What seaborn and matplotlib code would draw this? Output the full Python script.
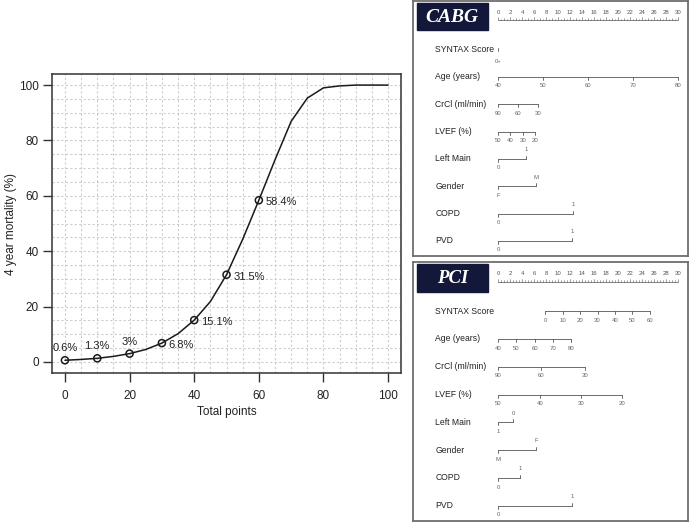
import numpy as np
import pandas as pd
import matplotlib
matplotlib.use("Agg")
import matplotlib.pyplot as plt
from matplotlib.patches import Rectangle
import seaborn as sns

# mortality curve
total_points = [0, 5, 10, 15, 20, 25, 30, 35, 40, 45, 50, 55, 60, 65, 70,
                75, 80, 85, 90, 95, 100]
mortality = [0.6, 0.9, 1.3, 2.0, 3.0, 4.5, 6.8, 10.2, 15.1, 21.8, 31.5, 44.3,
             58.4, 73.0, 86.9, 95.3, 99.0, 99.7, 100, 100, 100]
marked_points = [0, 10, 20, 30, 40, 50, 60]
marked_mortality = [0.6, 1.3, 3.0, 6.8, 15.1, 31.5, 58.4]
marked_labels = ["0.6%", "1.3%", "3%", "6.8%", "15.1%", "31.5%", "58.4%"]

# nomogram rows
variables = ["SYNTAX Score", "Age (years)", "CrCl (ml/min)", "LVEF (%)",
             "Left Main", "Gender", "COPD", "PVD"]
categorical = ["Left Main", "Gender", "COPD", "PVD"]
points_scale = list(range(0, 31, 2))

cabg_labels = [["0+"], ["40", "50", "60", "70", "80"], ["90", "60", "30"],
               ["50", "40", "30", "20"], ["0", "1"], ["F", "M"], ["0", "1"], ["0", "1"]]
cabg_points = [[0], [0, 7.5, 15, 22.5, 30], [0, 3.34, 6.68], [0, 2.06, 4.12, 6.2],
               [0, 4.73], [0, 6.35], [0, 12.5], [0, 12.4]]

pci_labels = [["0", "10", "20", "30", "40", "50", "60"], ["40", "50", "60", "70", "80"],
              ["90", "60", "30"], ["50", "40", "30", "20"], ["1", "0"], ["M", "F"],
              ["0", "1"], ["0", "1"]]
pci_points = [[7.9, 10.8, 13.7, 16.6, 19.5, 22.4, 25.3], [0, 3.06, 6.12, 9.18, 12.24],
              [0, 7.24, 14.58], [0, 6.96, 13.86, 20.7], [0, 2.5], [0, 6.35],
              [0, 3.62], [0, 12.36]]

sns.set_theme(style="white")
plt.rcParams['font.family'] = ['Liberation Sans', 'DejaVu Sans']

fig = plt.figure(figsize=(6.9, 5.23), dpi=100)

# ---- left: mortality vs total points
ax = fig.add_axes([0.0754, 0.2868, 0.5058, 0.5717])
df = pd.DataFrame({"points": total_points, "mortality": mortality})
dm = pd.DataFrame({"points": marked_points, "mortality": marked_mortality})
sns.lineplot(data=df, x="points", y="mortality", color="#1a1a1a", lw=1.1, ax=ax, zorder=3)
sns.scatterplot(data=dm, x="points", y="mortality", marker="o", s=26, facecolor="none",
                edgecolor="#1a1a1a", linewidth=1.1, ax=ax, zorder=4)
for i, (px, py, lab) in enumerate(zip(marked_points, marked_mortality, marked_labels)):
    if i < 3:
        ax.annotate(lab, (px, py), xytext=(0, 5), textcoords="offset points",
                    ha="center", va="bottom", fontsize=8, color="#222222")
    else:
        ax.annotate(lab, (px, py), xytext=(5, -1.5), textcoords="offset points",
                    ha="left", va="center", fontsize=8, color="#222222")

ax.set_xlim(-4, 104)
ax.set_ylim(-4, 104)
ax.set_xticks(range(0, 101, 20))
ax.set_yticks(range(0, 101, 20))
ax.set_xticks(range(0, 101, 5), minor=True)
ax.set_yticks(range(0, 101, 5), minor=True)
ax.grid(which="both", color="#cccccc", lw=0.8, linestyle=(0, (2, 2)))
ax.tick_params(which="major", length=6.5, width=1.0, color="#333333", labelsize=8.5,
               labelcolor="#222222", direction="out", bottom=True, left=True)
ax.tick_params(axis="x", which="major", pad=6)
ax.tick_params(axis="y", which="major", pad=3)
ax.tick_params(which="minor", length=0)
for sp in ax.spines.values():
    sp.set_color("#333333")
    sp.set_linewidth(1.1)
ax.set_xlabel("Total points", fontsize=8.5, color="#222222")
ax.set_ylabel("4 year mortality (%)", fontsize=8.5, color="#222222")
ax.xaxis.set_label_coords(0.5, -0.11)
ax.yaxis.set_label_coords(-0.10, 0.5)

# ---- right: nomograms
line_c = "#555555"
tick = 0.11


def draw_nomogram(nax, title, labels, points, title_size):
    nax.set_xlim(-14.2, 31.7)
    nax.set_ylim(7.55, -1.77)
    nax.set_xticks([])
    nax.set_yticks([])
    for sp in nax.spines.values():
        sp.set_color("#6e6e6e")
        sp.set_linewidth(1.3)
    nax.add_patch(Rectangle((0.0135, 0.886), 0.258, 0.106, transform=nax.transAxes,
                            color="#13173a", zorder=2))
    nax.text(0.1425, 0.937, title, transform=nax.transAxes, color="white",
             fontsize=title_size, fontweight="bold", fontstyle="italic",
             family="Liberation Serif", ha="center", va="center", zorder=3)
    # points scale
    y0 = -1.06
    nax.plot([0, 30], [y0, y0], color=line_c, lw=0.5)
    for p in np.arange(0, 30.01, 0.5):
        h = 0.11 if p % 2 == 0 else (0.08 if p % 1 == 0 else 0.05)
        nax.plot([p, p], [y0, y0 - h], color=line_c, lw=0.4)
    for p in points_scale:
        nax.text(p, y0 - 0.29, str(p), fontsize=4.3, color="#555555",
                 ha="center", va="center")
    # variable rows
    for i, (name, labs, pts) in enumerate(zip(variables, labels, points)):
        nax.text(-10.5, i, name, fontsize=6.2, color="#222222", ha="left", va="center")
        if len(pts) > 1:
            nax.plot([pts[0], pts[-1]], [i, i], color=line_c, lw=0.6)
        for j, (lab, p) in enumerate(zip(labs, pts)):
            up = name in categorical and j == 1
            d = -1 if up else 1
            if len(pts) == 1:
                nax.plot([p, p], [i - 0.07, i + 0.07], color=line_c, lw=0.6)
                nax.text(p, i + 0.43, lab, fontsize=4.3, color="#666666",
                         ha="center", va="center")
                continue
            nax.plot([p, p], [i, i + d * tick], color=line_c, lw=0.6)
            nax.text(p, i + d * 0.33, lab, fontsize=4.3, color="#666666",
                     ha="center", va="center")


ax_cabg = fig.add_axes([413 / 690, 1 - 256 / 523, 275 / 690, 255 / 523])
draw_nomogram(ax_cabg, "CABG", cabg_labels, cabg_points, 14)
ax_pci = fig.add_axes([413 / 690, 1 - 521 / 523, 275 / 690, 259 / 523])
draw_nomogram(ax_pci, "PCI", pci_labels, pci_points, 13.5)

fig.savefig("out.png", dpi=100)
